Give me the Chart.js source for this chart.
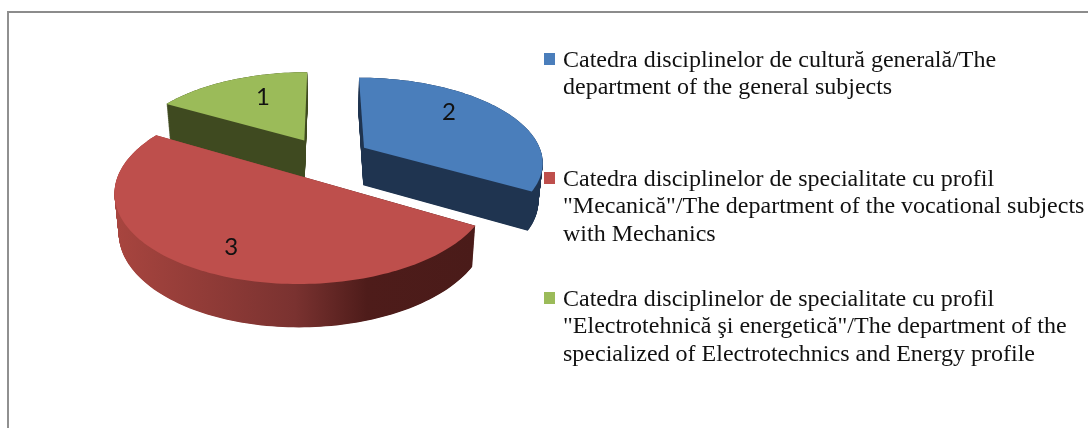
<!DOCTYPE html>
<html>
<head>
<meta charset="utf-8">
<script src="https://cdn.jsdelivr.net/npm/chart.js@4"></script>
<style>
  html, body { margin: 0; padding: 0; background: #fff; width: 1088px; height: 428px; overflow: hidden; }
  #frame { position: absolute; left: 7px; top: 11px; width: 1081px; height: 417px; border-left: 2px solid #909090; border-top: 2px solid #8c8c8c; box-sizing: border-box; }
  #pie { position: absolute; left: 0; top: 0; filter: blur(0.6px); }
  #legend { position: absolute; left: 0; top: 0; font: 24px/27.4px "Liberation Serif", serif; color: #111; }
  .item { position: absolute; left: 563px; white-space: pre; }
  .swatch { position: absolute; left: -19px; top: 7px; width: 11px; height: 12px; }
</style>
</head>
<body>
<div id="frame"></div>
<canvas id="pie" width="1088" height="428"></canvas>
<div id="legend"></div>
<script>
// values as written on the slices, legend order
const categories = [
  'Catedra disciplinelor de cultură generală/The\ndepartment of the general subjects',
  'Catedra disciplinelor de specialitate cu profil\n"Mecanică"/The department of the vocational subjects\nwith Mechanics',
  'Catedra disciplinelor de specialitate cu profil\n"Electrotehnică şi energetică"/The department of the\nspecialized of Electrotechnics and Energy profile',
];
const values = [2, 3, 1];

const topColors = ['#4a7ebb', '#be4f4c', '#9bbb59'];
const wallStops = [
  [[0, '#1f3450'], [1, '#1f3450']],
  [[0, '#a8453f'], [0.5, '#7a3230'], [0.7, '#4e1c1a'], [1, '#4a1b19']],
  [[0, '#3f4a20'], [1, '#3f4a20']],
];
const legendTops = [46, 165, 285];
// label spot inside each slice: direction in degrees, fraction of the radius
const labelAngles = [-41.6, 115.4, 245.7];
const labelRadii = [0.715, 0.768, 0.662];

// perspective of the pie plane, fitted on the reference
const view = { vx: 326, vy: -380, a: 179, g: 538, q: 0.156, depthBase: 15, depthScale: 23, shrink: 0.98 };

function project(x, y) {
  const s = 1 / (1 - view.q * y);
  return { x: view.vx + view.a * x * s, y: view.vy + view.g * s, s };
}

function outline(arc) {
  const { startAngle, endAngle, outerRadius } = arc;
  const mid = (startAngle + endAngle) / 2;
  const e = arc.options.offset / outerRadius;
  const cx = Math.cos(mid) * e;
  const cy = Math.sin(mid) * e;
  const pts = [project(cx, cy)];
  const steps = Math.ceil((endAngle - startAngle) * 40);
  for (let i = 0; i <= steps; i++) {
    const t = startAngle + (endAngle - startAngle) * i / steps;
    pts.push(project(cx + Math.cos(t), cy + Math.sin(t)));
  }
  return { pts, cx, cy };
}

function fillPath(ctx, pts, drop) {
  ctx.beginPath();
  pts.forEach((p, i) => {
    let x = p.x;
    let y = p.y;
    if (drop > 0) {
      const depth = (view.depthBase + view.depthScale * p.s) * drop;
      x = view.vx + (x - view.vx) * (1 - (1 - view.shrink) * drop);
      y += depth;
    }
    if (i === 0) ctx.moveTo(x, y); else ctx.lineTo(x, y);
  });
  ctx.closePath();
  ctx.fill();
}

const pie3d = {
  id: 'pie3d',
  beforeDatasetsDraw(chart) {
    const ctx = chart.ctx;
    const arcs = chart.getDatasetMeta(0).data;
    const slices = arcs.map((arc, i) => ({ i, ...outline(arc) }));
    slices.sort((a, b) => a.cy - b.cy); // back to front

    ctx.save();
    slices.forEach(({ i, pts }) => {
      const xs = pts.map(p => p.x);
      const grad = ctx.createLinearGradient(Math.min(...xs), 0, Math.max(...xs), 0);
      wallStops[i].forEach(([pos, col]) => grad.addColorStop(pos, col));
      ctx.fillStyle = grad;
      for (let d = 1; d > 0; d -= 0.0125) fillPath(ctx, pts, d);
      ctx.fillStyle = topColors[i];
      fillPath(ctx, pts, 0);
    });

    ctx.fillStyle = '#111';
    ctx.font = '24px Lato, "Open Sans", sans-serif';
    ctx.textAlign = 'center';
    ctx.textBaseline = 'middle';
    slices.forEach(({ i, cx, cy }) => {
      const t = labelAngles[i] * Math.PI / 180;
      const p = project(cx + Math.cos(t) * labelRadii[i], cy + Math.sin(t) * labelRadii[i]);
      ctx.fillText(String(values[i]), p.x, p.y);
    });
    ctx.restore();
    return false; // faces already painted in perspective
  },
};

new Chart(document.getElementById('pie'), {
  type: 'pie',
  data: {
    labels: categories,
    datasets: [{ data: values, backgroundColor: topColors, borderWidth: 0, offset: 40 }],
  },
  options: {
    responsive: false,
    animation: false,
    radius: 160,
    plugins: { legend: { display: false }, tooltip: { enabled: false } },
  },
  plugins: [pie3d],
});

const legend = document.getElementById('legend');
categories.forEach((label, i) => {
  const item = document.createElement('div');
  item.className = 'item';
  item.style.top = legendTops[i] + 'px';
  item.textContent = label;
  const swatch = document.createElement('span');
  swatch.className = 'swatch';
  swatch.style.background = topColors[i];
  item.appendChild(swatch);
  legend.appendChild(item);
});
</script>
</body>
</html>
